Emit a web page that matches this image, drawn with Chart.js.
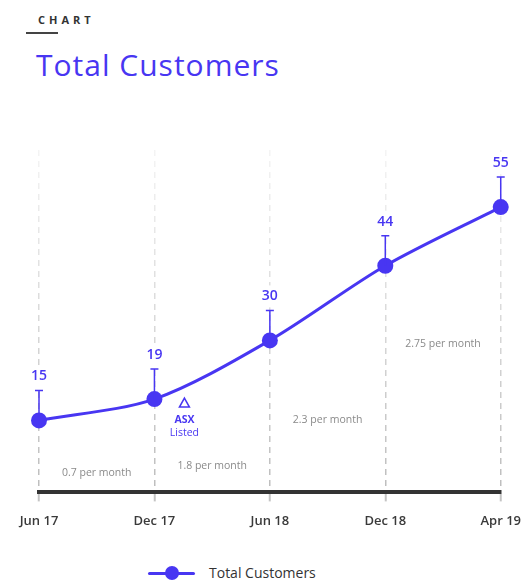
<!DOCTYPE html>
<html>
<head>
<meta charset="utf-8">
<script src="https://cdn.jsdelivr.net/npm/chart.js@4"></script>
<style>
  html, body { margin: 0; padding: 0; background: #fff; }
  body { width: 526px; height: 580px; position: relative; overflow: hidden; font-family: "Open Sans", Lato, sans-serif; }
  .kicker { position: absolute; left: 38px; top: 12px; font-size: 11px; font-weight: 700; letter-spacing: 4px; color: #333; }
  .kicker-rule { position: absolute; left: 26px; top: 32px; width: 32px; height: 2px; background: #444; }
  .title { position: absolute; left: 36px; top: 44px; font-size: 30px; font-weight: 500; letter-spacing: 1px; color: #4836f2; }
  #wrap { position: absolute; left: 0; top: 100px; width: 533px; height: 441px; }
  .legend { position: absolute; top: 563px; left: 148px; display: flex; align-items: center; font-size: 14px; font-weight: 500; color: #333; }
  .legend .mark { position: relative; width: 47px; height: 16px; margin-right: 14px; }
  .legend .mark::before { content: ""; position: absolute; left: 0; right: 0; top: 7px; height: 3px; background: #4836f2; border-radius: 2px; }
  .legend .mark::after { content: ""; position: absolute; left: 17px; top: 1px; width: 14px; height: 14px; border-radius: 50%; background: #4836f2; }
</style>
</head>
<body>
<div class="kicker">CHART</div>
<div class="kicker-rule"></div>
<div class="title">Total Customers</div>
<div id="wrap"><canvas id="chart"></canvas></div>
<div class="legend"><span class="mark"></span>Total Customers</div>

<script>
// Total Customers line chart

const periods = ['Jun 17', 'Dec 17', 'Jun 18', 'Dec 18', 'Apr 19'];
const customers = [15, 19, 30, 44, 55];

// growth rate between consecutive periods, and where the text sits (y in data units)
const rateLabels = ['0.7 per month', '1.8 per month', '2.3 per month', '2.75 per month'];
const rateLabelAt = [5.1, 6.4, 15.0, 29.3];

const purple = '#4836f2';
const font = '"Open Sans", Lato, sans-serif';

// T-shaped marker above each point with the value on top
const valueMarkers = {
    id: 'valueMarkers',
    beforeDatasetsDraw(chart) {
        // white patch so the dashed grid stops behind the value labels
        const ctx = chart.ctx;
        const meta = chart.getDatasetMeta(0);
        ctx.save();
        ctx.fillStyle = '#fff';
        meta.data.forEach(pt => ctx.fillRect(pt.x - 12, pt.y - 55, 24, 22));
        ctx.restore();
    },
    afterDatasetsDraw(chart) {
        const ctx = chart.ctx;
        const meta = chart.getDatasetMeta(0);
        ctx.save();
        ctx.strokeStyle = purple;
        ctx.lineWidth = 1.5;
        ctx.fillStyle = purple;
        ctx.font = '600 14px ' + font;
        ctx.textAlign = 'center';
        ctx.textBaseline = 'middle';
        meta.data.forEach((pt, i) => {
            const top = pt.y - 30;
            ctx.beginPath();
            ctx.moveTo(pt.x, pt.y);
            ctx.lineTo(pt.x, top);
            ctx.moveTo(pt.x - 4, top);
            ctx.lineTo(pt.x + 4, top);
            ctx.stroke();
            ctx.fillText(String(customers[i]), pt.x, top - 14);
        });

        // ASX listing note just after Dec 17
        const p = meta.data[1];
        const tx = p.x + 30, ty = p.y + 4;
        ctx.lineWidth = 1.5;
        ctx.beginPath();
        ctx.moveTo(tx, ty - 5);
        ctx.lineTo(tx + 5, ty + 4);
        ctx.lineTo(tx - 5, ty + 4);
        ctx.closePath();
        ctx.stroke();
        ctx.font = '700 10.5px ' + font;
        ctx.fillText('ASX', tx, ty + 17);
        ctx.font = '400 10.5px ' + font;
        ctx.fillText('Listed', tx, ty + 30);

        // per-month rates between periods
        const xs = chart.scales.x, ys = chart.scales.y;
        ctx.fillStyle = '#8a8a8a';
        ctx.font = '400 10.5px ' + font;
        rateLabels.forEach((t, i) => {
            const x = (xs.getPixelForValue(i) + xs.getPixelForValue(i + 1)) / 2;
            ctx.fillText(t, x, ys.getPixelForValue(rateLabelAt[i]));
        });
        ctx.restore();
    }
};

// grid fades out toward the top of the plot
function gridColor(c) {
    const area = c.chart.chartArea;
    if (!area) return '#d0d0d0';
    const g = c.chart.ctx.createLinearGradient(0, area.top, 0, area.bottom);
    g.addColorStop(0, '#f4f4f4');
    g.addColorStop(1, '#bdbdbd');
    return g;
}

new Chart(document.getElementById('chart'), {
    type: 'line',
    plugins: [valueMarkers],
    data: {
        labels: periods,
        datasets: [{
            label: 'Total Customers',
            data: customers,
            borderColor: purple,
            backgroundColor: purple,
            borderWidth: 3,
            pointRadius: 8,
            pointHoverRadius: 8,
            pointBackgroundColor: purple,
            pointBorderWidth: 0,
            tension: 0.3,
            clip: false
        }]
    },
    options: {
        responsive: true,
        maintainAspectRatio: false,
        animation: false,
        layout: {
            padding: { top: 50, left: 39, right: 20, bottom: 0 }
        },
        plugins: {
            legend: { display: false },
            title: { display: false },
            tooltip: { enabled: false }
        },
        scales: {
            x: {
                offset: false,
                grid: {
                    color: gridColor,
                    lineWidth: 1.5,
                    tickColor: '#c4c4c4',
                    tickWidth: 2,
                    tickLength: 9,
                    tickBorderDash: []
                },
                border: {
                    display: true,
                    color: '#333333',
                    width: 4,
                    dash: [6, 5]
                },
                ticks: {
                    color: '#3a3a3a',
                    padding: 12,
                    font: { family: font, size: 13, weight: 600 }
                }
            },
            y: {
                display: false,
                min: 1.5,
                max: 65.7
            }
        }
    }
});
</script>
</body>
</html>
